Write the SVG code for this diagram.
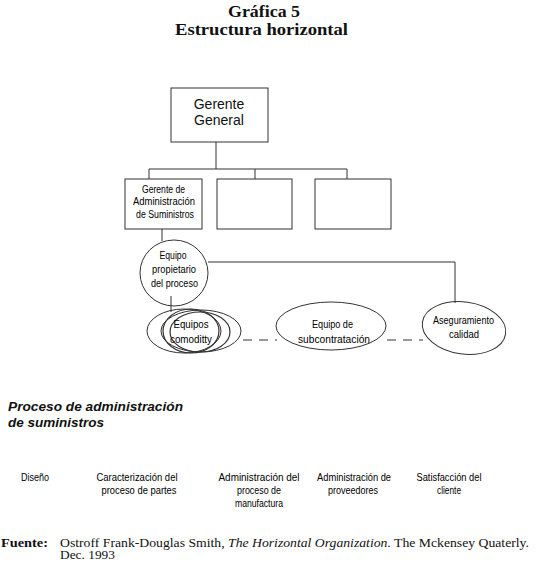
<svg xmlns="http://www.w3.org/2000/svg" width="545" height="568" viewBox="0 0 545 568">
<style>
.bg{fill:#fff}
.box{fill:#fff;stroke:#333;stroke-width:1}
.ell{fill:none;stroke:#333;stroke-width:1}
.ln{fill:none;stroke:#333;stroke-width:1}
.dash{fill:none;stroke:#333;stroke-width:1;stroke-dasharray:9,7}
.title{font-family:"Liberation Serif","DejaVu Serif",serif;font-weight:bold;font-size:17px;text-anchor:middle;fill:#111}
.gg{font-family:"Liberation Sans",Arial,sans-serif;font-size:14px;text-anchor:middle;fill:#111}
.n{font-family:"Liberation Sans Narrow","Liberation Sans",Arial,sans-serif;font-size:11px;text-anchor:middle;fill:#000}
.n10{font-family:"Liberation Sans Narrow","Liberation Sans",Arial,sans-serif;font-size:10px;text-anchor:middle;fill:#000}
.hd{font-family:"Liberation Sans",Arial,sans-serif;font-size:13.5px;font-weight:bold;font-style:italic;fill:#111}
.ft{font-family:"Liberation Serif","DejaVu Serif",serif;font-size:13px;fill:#111}
</style>
<rect class="bg" x="0" y="0" width="545" height="568"/>

<g id="title">
<text class="title" x="264" y="17" textLength="72" lengthAdjust="spacingAndGlyphs">Gráfica 5</text>
<text class="title" x="261.5" y="35" textLength="173" lengthAdjust="spacingAndGlyphs">Estructura horizontal</text>
</g>

<g id="connectors">
<line class="ln" x1="216" y1="142" x2="216" y2="169"/>
<line class="ln" x1="149" y1="169" x2="347" y2="169"/>
<line class="ln" x1="149" y1="169" x2="149" y2="179"/>
<line class="ln" x1="255" y1="169" x2="255" y2="179"/>
<line class="ln" x1="347" y1="169" x2="347" y2="179"/>
<line class="ln" x1="162" y1="229" x2="162" y2="241"/>
<polyline class="ln" points="208,262 455,262 455,303"/>
<line class="ln" x1="171" y1="296" x2="171" y2="312"/>
<line class="dash" x1="243" y1="340" x2="277" y2="340"/>
<line class="dash" x1="387" y1="340" x2="423" y2="340"/>
</g>

<g id="gerente-general">
<rect class="box" x="171" y="88" width="97" height="54"/>
<text class="gg" x="219" y="109">Gerente</text>
<text class="gg" x="219" y="125">General</text>
</g>

<g id="gerente-admin">
<rect class="box" x="125" y="179" width="77" height="50"/>
<text class="n10" x="163.5" y="193" textLength="43" lengthAdjust="spacingAndGlyphs">Gerente de</text>
<text class="n10" x="164" y="205" textLength="62" lengthAdjust="spacingAndGlyphs">Administración</text>
<text class="n10" x="165" y="218" textLength="58" lengthAdjust="spacingAndGlyphs">de Suministros</text>
</g>

<g id="box-2">
<rect class="box" x="217" y="179" width="75" height="50"/>
</g>

<g id="box-3">
<rect class="box" x="315" y="179" width="76" height="50"/>
</g>

<g id="equipo-propietario">
<ellipse class="ell" cx="174" cy="273" rx="34" ry="33"/>
<text class="n" x="173" y="259" textLength="27" lengthAdjust="spacingAndGlyphs">Equipo</text>
<text class="n" x="174" y="273" textLength="44" lengthAdjust="spacingAndGlyphs">propietario</text>
<text class="n" x="174.5" y="287" textLength="47" lengthAdjust="spacingAndGlyphs">del proceso</text>
</g>

<g id="equipos-comoditty">
<ellipse class="ell" cx="184" cy="331" rx="37" ry="22"/>
<ellipse class="ell" cx="201" cy="331" rx="40" ry="21"/>
<ellipse class="ell" cx="191" cy="331" rx="28" ry="22" style="stroke-width:1.2"/>
<ellipse class="ell" cx="200" cy="332" rx="30" ry="20" style="stroke-width:1.2"/>
<text class="n" x="191" y="328" textLength="35" lengthAdjust="spacingAndGlyphs">Equipos</text>
<text class="n" x="191" y="343" textLength="42" lengthAdjust="spacingAndGlyphs">comoditty</text>
</g>

<g id="equipo-subcontratacion">
<ellipse class="ell" cx="331" cy="326" rx="55" ry="24"/>
<text class="n" x="332.5" y="328" textLength="41" lengthAdjust="spacingAndGlyphs">Equipo de</text>
<text class="n" x="334" y="343" textLength="72" lengthAdjust="spacingAndGlyphs">subcontratación</text>
</g>

<g id="aseguramiento">
<ellipse class="ell" cx="464" cy="328" rx="42" ry="26" transform="rotate(8 464 328)"/>
<text class="n" x="463.5" y="324" textLength="61" lengthAdjust="spacingAndGlyphs">Aseguramiento</text>
<text class="n" x="464" y="338" textLength="30" lengthAdjust="spacingAndGlyphs">calidad</text>
</g>

<g id="proceso-heading">
<text class="hd" x="8" y="411" textLength="175" lengthAdjust="spacingAndGlyphs">Proceso de administración</text>
<text class="hd" x="8" y="427" textLength="96" lengthAdjust="spacingAndGlyphs">de suministros</text>
</g>

<g id="etapas">
<text class="n" x="35" y="481" textLength="28" lengthAdjust="spacingAndGlyphs">Diseño</text>
<text class="n" x="137" y="481" textLength="81" lengthAdjust="spacingAndGlyphs">Caracterización del</text>
<text class="n" x="139" y="494" textLength="75" lengthAdjust="spacingAndGlyphs">proceso de partes</text>
<text class="n" x="259" y="481" textLength="81" lengthAdjust="spacingAndGlyphs">Administración del</text>
<text class="n" x="259" y="494" textLength="44" lengthAdjust="spacingAndGlyphs">proceso de</text>
<text class="n" x="259" y="507" textLength="48" lengthAdjust="spacingAndGlyphs">manufactura</text>
<text class="n" x="354" y="481" textLength="74" lengthAdjust="spacingAndGlyphs">Administración de</text>
<text class="n" x="353" y="494" textLength="50" lengthAdjust="spacingAndGlyphs">proveedores</text>
<text class="n" x="449" y="481" textLength="65" lengthAdjust="spacingAndGlyphs">Satisfacción del</text>
<text class="n" x="449" y="494" textLength="24" lengthAdjust="spacingAndGlyphs">cliente</text>
</g>

<g id="fuente">
<text class="ft" x="1" y="547" style="font-weight:bold" textLength="47" lengthAdjust="spacingAndGlyphs">Fuente:</text>
<text class="ft" x="60" y="547" textLength="469" lengthAdjust="spacingAndGlyphs">Ostroff Frank-Douglas Smith, <tspan font-style="italic">The Horizontal Organization.</tspan> The Mckensey Quaterly.</text>
<text class="ft" x="60" y="559" textLength="55" lengthAdjust="spacingAndGlyphs">Dec. 1993</text>
</g>
</svg>
